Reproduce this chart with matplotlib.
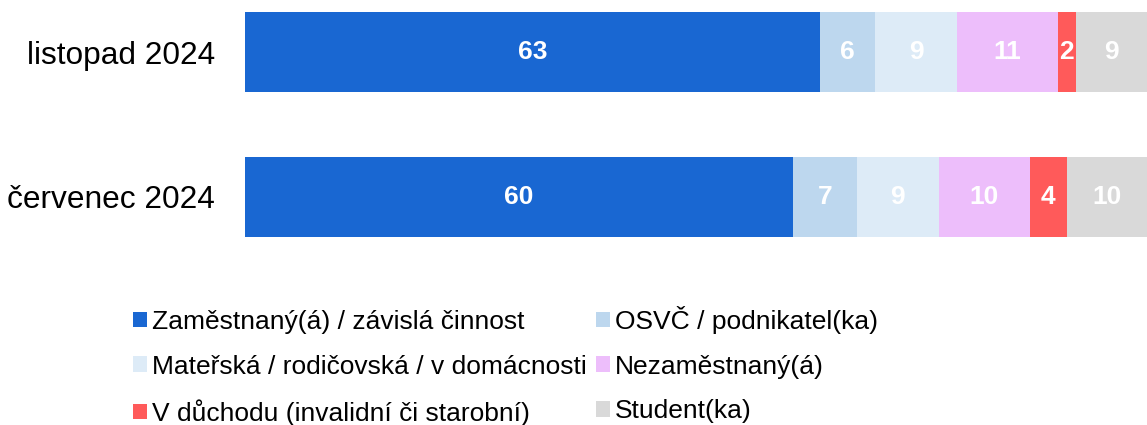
import matplotlib
matplotlib.use("Agg")
import matplotlib.pyplot as plt
from matplotlib.patches import Patch

plt.rcParams['font.family'] = ['Liberation Sans', 'DejaVu Sans']

periods = ["listopad 2024", "červenec 2024"]
categories = ["Zaměstnaný(á) / závislá činnost", "OSVČ / podnikatel(ka)",
              "Mateřská / rodičovská / v domácnosti", "Nezaměstnaný(á)",
              "V důchodu (invalidní či starobní)", "Student(ka)"]
values = {
    "Zaměstnaný(á) / závislá činnost": [63, 60],
    "OSVČ / podnikatel(ka)": [6, 7],
    "Mateřská / rodičovská / v domácnosti": [9, 9],
    "Nezaměstnaný(á)": [11, 10],
    "V důchodu (invalidní či starobní)": [2, 4],
    "Student(ka)": [9, 10],
}
colors = ["#1967D2", "#BDD7EE", "#DDEBF7", "#EDBEFB", "#FF5A5A", "#D9D9D9"]

fig = plt.figure(figsize=(11.47, 4.25), dpi=100)
ax = fig.add_axes([245/1147, 1-249/425, 1-245/1147, 249/425])

ypos = list(range(len(periods)))
left = [0]*len(periods)
for cat, col in zip(categories, colors):
    vals = values[cat]
    bars = ax.barh(ypos, vals, left=left, height=0.552, color=col, edgecolor='none')
    ax.bar_label(bars, labels=[str(v) for v in vals], label_type='center',
                 color='white', fontsize=19, fontweight='bold')
    left = [l + v for l, v in zip(left, vals)]

ax.set_xlim(0, 98.8)
ax.set_ylim(1.36, -0.36)
ax.set_yticks(ypos)
ax.set_yticklabels(periods, fontsize=22.8)
ax.tick_params(axis='y', length=0, pad=21.6)
ax.set_xticks([])
for s in ax.spines.values():
    s.set_visible(False)

handles = [Patch(facecolor=c, edgecolor='none') for c in colors]
order = [0, 2, 4, 1, 3, 5]
fig.legend([handles[i] for i in order], [categories[i] for i in order],
           ncol=2, loc='upper left', bbox_to_anchor=(133/1147, 1-306/425),
           frameon=False, fontsize=19, handlelength=0.53, handleheight=0.53,
           handletextpad=0.19, columnspacing=0.35, labelspacing=0.78,
           borderpad=0, borderaxespad=0)

fig.savefig("out.png", dpi=100)
